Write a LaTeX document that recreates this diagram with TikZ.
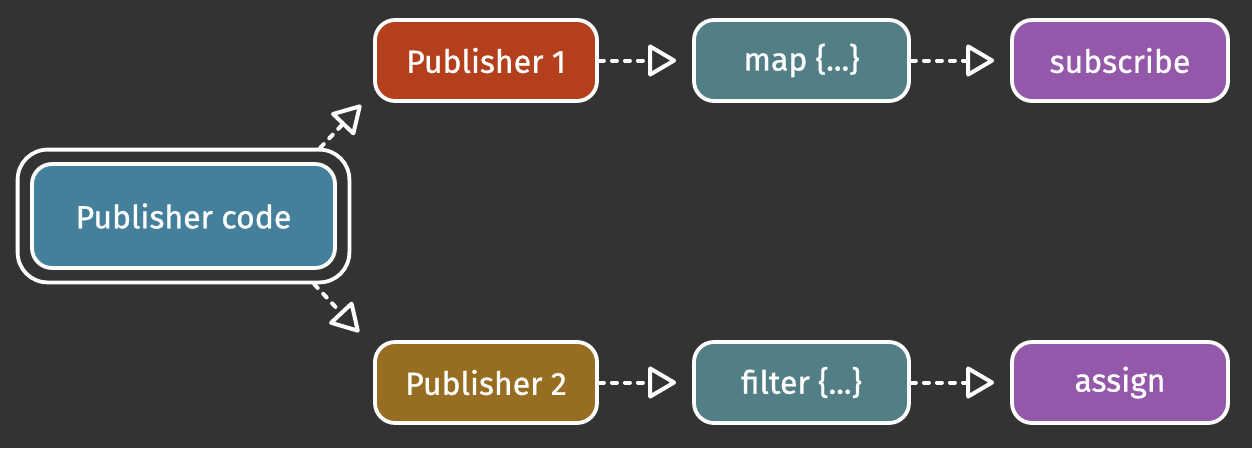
\documentclass[tikz,border=0pt]{standalone}
\usepackage{fontspec}
\setmainfont{Fira Sans}
\newfontfamily\lbl[FakeBold=0.9]{Fira Sans}
\usetikzlibrary{arrows.meta,fit}
\definecolor{bg}{HTML}{333333}
\definecolor{pccol}{HTML}{447F9C}
\definecolor{p1col}{HTML}{B33F1D}
\definecolor{p2col}{HTML}{976D22}
\definecolor{opcol}{HTML}{527E86}
\definecolor{subcol}{HTML}{9458AB}
\tikzset{
  box/.style={draw=white, line width=3.8pt, rounded corners=20pt, text=white,
    minimum height=81pt, inner sep=0pt,
    font=\lbl\fontsize{32}{38}\selectfont},
  flow/.style={draw=white, line width=4pt, line cap=round, line join=round,
    dash pattern=on 5pt off 8pt,
    -{Triangle[open, length=30pt, width=34pt, line join=round, sep=0pt]}},
}
\begin{document}
\begin{tikzpicture}[x=1pt,y=-1pt]
\useasboundingbox[fill=bg] (0,0) rectangle (1252,448);
% nodes
\node[box, fill=pccol, minimum width=303pt, minimum height=104pt] (pc) at (183.5,216) {Publisher code};
\node[draw=white, line width=3.8pt, rounded corners=30pt, fit=(pc), inner sep=12.5pt] (pco) {};
\node[box, fill=p1col, minimum width=222pt] (p1) at (486,60.5) {Publisher 1};
\node[box, fill=p2col, minimum width=222pt] (p2) at (486,382.5) {Publisher 2};
\node[box, fill=opcol, minimum width=215pt] (map) at (801.5,60.5) {map \{...\}};
\node[box, fill=opcol, minimum width=215pt] (flt) at (801.5,382.5) {filter \{...\}};
\node[box, fill=subcol, minimum width=216pt] (sub) at (1120,60.5) {subscribe};
\node[box, fill=subcol, minimum width=216pt] (asg) at (1120,382.5) {assign};
% connectors
\draw[flow, shorten >=16pt] (p1.east) -- (map.west);
\draw[flow, shorten >=16pt] (map.east) -- (sub.west);
\draw[flow, shorten >=16pt] (p2.east) -- (flt.west);
\draw[flow, shorten >=16pt] (flt.east) -- (asg.west);
\draw[flow] ([shift={(-31,0)}]pco.north east) -- ([shift={(-12,2)}]p1.south west);
\draw[flow] ([shift={(-37,0)}]pco.south east) -- ([shift={(-14,-8)}]p2.north west);
\end{tikzpicture}
\end{document}
